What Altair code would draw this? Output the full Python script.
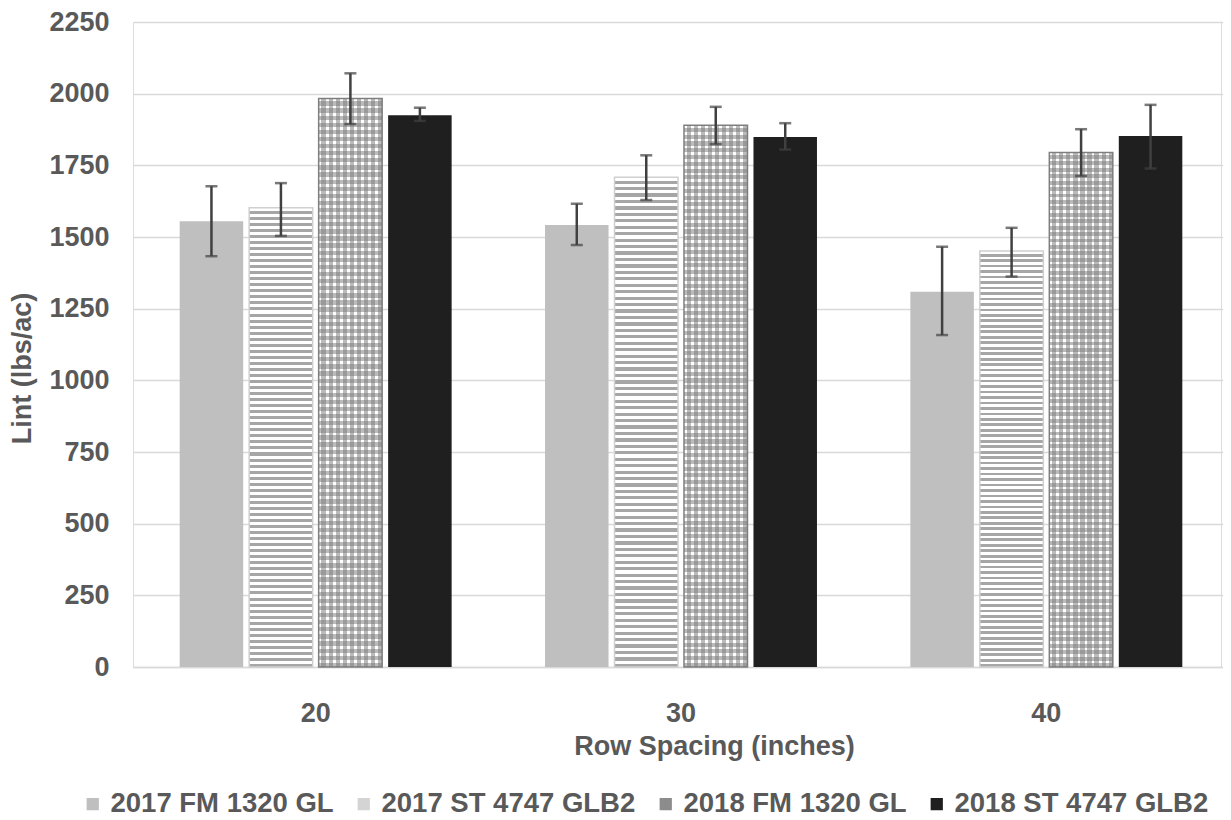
import altair as alt
import pandas as pd

spacings = ["20", "30", "40"]
series = ["2017 FM 1320 GL", "2017 ST 4747 GLB2", "2018 FM 1320 GL", "2018 ST 4747 GLB2"]

fm17 = [1555, 1542, 1309]
fm17_lo = [1433, 1472, 1158]
fm17_hi = [1677, 1616, 1466]

st17 = [1602, 1708, 1451]
st17_lo = [1504, 1629, 1362]
st17_hi = [1688, 1785, 1532]

fm18 = [1983, 1890, 1795]
fm18_lo = [1894, 1824, 1713]
fm18_hi = [2071, 1954, 1876]

st18 = [1925, 1849, 1852]
st18_lo = [1905, 1805, 1739]
st18_hi = [1951, 1897, 1961]

y_ticks = [0, 250, 500, 750, 1000, 1250, 1500, 1750, 2000, 2250]

rows = []
for s, vals, lo, hi in [
    (series[0], fm17, fm17_lo, fm17_hi),
    (series[1], st17, st17_lo, st17_hi),
    (series[2], fm18, fm18_lo, fm18_hi),
    (series[3], st18, st18_lo, st18_hi),
]:
    for i, sp in enumerate(spacings):
        rows.append({"spacing": sp, "series": s, "value": vals[i], "lo": lo[i], "hi": hi[i]})
df = pd.DataFrame(rows)

TEXT = "#595959"
FONT = "Liberation Sans"


def stripe_gradient(n, c_on, c_off, frac, vertical):
    stops = []
    for i in range(n):
        a = i / n
        b = (i + frac) / n
        c = (i + 1) / n
        stops += [
            alt.GradientStop(color=c_off, offset=a),
            alt.GradientStop(color=c_off, offset=b),
            alt.GradientStop(color=c_on, offset=b),
            alt.GradientStop(color=c_on, offset=c),
        ]
    if vertical:
        return alt.Gradient(gradient="linear", stops=stops, x1=0, y1=0, x2=0, y2=1)
    return alt.Gradient(gradient="linear", stops=stops, x1=0, y1=0, x2=1, y2=0)


x_scale = alt.Scale(paddingInner=0, paddingOuter=0, range=[0, 1096])

x_enc = alt.X(
    "spacing:N",
    sort=spacings,
    scale=x_scale,
    axis=alt.Axis(
        title="Row Spacing (inches)",
        labelAngle=0,
        ticks=False,
        tickSize=0,
        domain=True,
        domainColor="#d9d9d9",
        domainWidth=1.5,
        grid=False,
        labelPadding=33,
        labelFontSize=27,
        labelFont=FONT,
        labelFontWeight="bold",
        labelColor=TEXT,
        titleFontSize=27,
        titleFont=FONT,
        titleFontWeight="bold",
        titleColor=TEXT,
        titleX=581,
        titleY=66,
    ),
)
xo_enc = alt.XOffset(
    "series:N",
    sort=series,
    scale=alt.Scale(paddingInner=0.086, paddingOuter=0.672),
)
y_scale = alt.Scale(domain=[0, 2250], nice=False)
x_plain = alt.X("spacing:N", sort=spacings, scale=x_scale)

base = alt.Chart(df)

bars = base.mark_bar().encode(
    x=x_enc,
    xOffset=xo_enc,
    y=alt.Y(
        "value:Q",
        scale=y_scale,
        axis=alt.Axis(
            title="Lint (lbs/ac)",
            values=y_ticks,
            format="d",
            domain=False,
            ticks=False,
            tickSize=0,
            grid=True,
            gridColor="#d9d9d9",
            gridWidth=1.5,
            labelPadding=24,
            labelFontSize=27,
            labelFont=FONT,
            labelFontWeight="bold",
            labelColor=TEXT,
            titleFontSize=27,
            titleFont=FONT,
            titleFontWeight="bold",
            titleColor=TEXT,
            titleX=-97,
            titleY=346,
        ),
    ),
    color=alt.Color(
        "series:N",
        sort=series,
        scale=alt.Scale(domain=series, range=["#bfbfbf", "#d4d4d4", "#8c8c8c", "#1f1f1f"]),
        legend=alt.Legend(
            title=None,
            orient="none",
            direction="horizontal",
            legendX=-54,
            legendY=768,
            symbolType="square",
            symbolSize=150,
            symbolStrokeWidth=0,
            labelFontSize=27.5,
            labelFont=FONT,
            labelFontWeight="bold",
            labelColor=TEXT,
            labelOffset=4,
            labelLimit=0,
            columnPadding=16,
            padding=0,
        ),
    ),
)

stripes = base.transform_filter(alt.datum.series == series[1]).mark_bar(
    fill=stripe_gradient(76, "#a6a6a6", "#ffffff", 0.5, True),
    stroke="#d0d0d0",
    strokeWidth=1.5,
).encode(x=x_plain, xOffset=xo_enc, y=alt.Y("value:Q", scale=y_scale))

dots_base = base.transform_filter(alt.datum.series == series[2]).mark_bar(
    fill="#ffffff",
    stroke="#808080",
    strokeWidth=1.5,
).encode(x=x_plain, xOffset=xo_enc, y=alt.Y("value:Q", scale=y_scale))

dots_rows = base.transform_filter(alt.datum.series == series[2]).mark_bar(
    fill=stripe_gradient(80, "rgba(120,120,120,0.5)", "rgba(255,255,255,0)", 0.4, True),
).encode(x=x_plain, xOffset=xo_enc, y=alt.Y("value:Q", scale=y_scale))

dots_cols = base.transform_filter(alt.datum.series == series[2]).mark_bar(
    fill=stripe_gradient(9, "rgba(120,120,120,0.5)", "rgba(255,255,255,0)", 0.4, False),
).encode(x=x_plain, xOffset=xo_enc, y=alt.Y("value:Q", scale=y_scale))

err = base.mark_rule(color="#404040", strokeWidth=2.5).encode(
    x=x_plain,
    xOffset=xo_enc,
    y=alt.Y("lo:Q", scale=y_scale),
    y2="hi:Q",
)
cap_lo = base.mark_tick(color="#404040", thickness=2.5, size=12).encode(
    x=x_plain, xOffset=xo_enc, y=alt.Y("lo:Q", scale=y_scale)
)
cap_hi = base.mark_tick(color="#404040", thickness=2.5, size=12).encode(
    x=x_plain, xOffset=xo_enc, y=alt.Y("hi:Q", scale=y_scale)
)

chart = (
    alt.layer(bars, stripes, dots_base, dots_rows, dots_cols, err, cap_lo, cap_hi)
    .properties(
        width=1088,
        height=645,
        autosize=alt.AutoSizeParams(type="none"),
        padding={"left": 125, "top": 14, "right": 2, "bottom": 152},
    )
    .configure_view(strokeWidth=0)
    .configure(background="white")
)

chart.save("out.html", embed_options={"renderer": "svg", "actions": False})
